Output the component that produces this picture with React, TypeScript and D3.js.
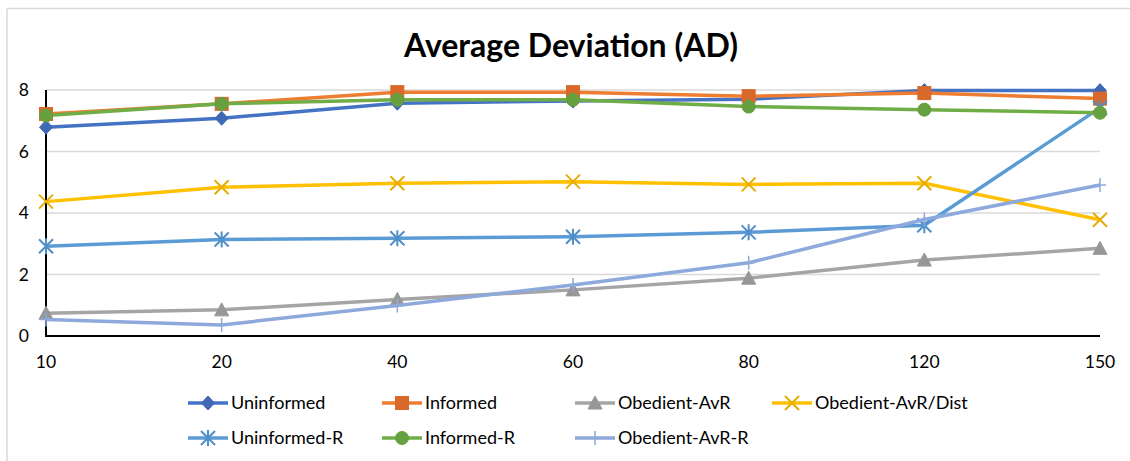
import React from "react";
import * as d3 from "d3";

const categories = ["10", "20", "40", "60", "80", "120", "150"];
const uninformed = [6.79, 7.08, 7.57, 7.64, 7.7, 7.98, 7.98];
const informed = [7.22, 7.55, 7.93, 7.93, 7.8, 7.9, 7.72];
const obedientAvR = [0.74, 0.85, 1.19, 1.5, 1.88, 2.47, 2.85];
const obedientAvRDist = [4.37, 4.84, 4.97, 5.02, 4.93, 4.97, 3.78];
const uninformedR = [2.92, 3.14, 3.18, 3.23, 3.37, 3.6, 7.42];
const informedR = [7.17, 7.55, 7.68, 7.68, 7.46, 7.36, 7.26];
const obedientAvRR = [0.54, 0.36, 0.99, 1.66, 2.38, 3.79, 4.91];
const yTicks = [0, 2, 4, 6, 8];

type Marker = "diamond" | "square" | "triangle" | "x" | "asterisk" | "circle" | "plus";

const seriesList: { name: string; values: number[]; color: string; marker: Marker }[] = [
  { name: "Uninformed", values: uninformed, color: "#4472C4", marker: "diamond" },
  { name: "Informed", values: informed, color: "#ED7D31", marker: "square" },
  { name: "Obedient-AvR", values: obedientAvR, color: "#A5A5A5", marker: "triangle" },
  { name: "Obedient-AvR/Dist", values: obedientAvRDist, color: "#FFC000", marker: "x" },
  { name: "Uninformed-R", values: uninformedR, color: "#5B9BD5", marker: "asterisk" },
  { name: "Informed-R", values: informedR, color: "#70AD47", marker: "circle" },
  { name: "Obedient-AvR-R", values: obedientAvRR, color: "#8EA9DB", marker: "plus" },
];

const markerColor: Record<string, string> = {
  "#4472C4": "#3F69B5",
  "#ED7D31": "#D9692B",
  "#A5A5A5": "#979797",
  "#FFC000": "#E6AC00",
  "#5B9BD5": "#4F8EC8",
  "#70AD47": "#66A03F",
  "#8EA9DB": "#8EA9DB",
};

function MarkerShape({ type, x, y, color }: { type: Marker; x: number; y: number; color: string }) {
  const c = markerColor[color] || color;
  const t = `translate(${x},${y})`;
  switch (type) {
    case "diamond":
      return <path transform={t} d="M0,-7L6.5,0L0,7L-6.5,0Z" fill={c} stroke={c} strokeWidth={1} />;
    case "square":
      return <rect x={x - 6.5} y={y - 6.5} width={13} height={13} fill={c} stroke={c} strokeWidth={1} />;
    case "triangle":
      return <path transform={t} d="M0,-7L7,6L-7,6Z" fill={c} stroke={c} strokeWidth={1} />;
    case "circle":
      return <circle cx={x} cy={y} r={6.5} fill={c} stroke={c} strokeWidth={1} />;
    case "x":
      return <path transform={t} d="M-7,-7L7,7M-7,7L7,-7" stroke={c} strokeWidth={2} fill="none" />;
    case "asterisk":
      return <path transform={t} d="M-7,-7L7,7M-7,7L7,-7M0,-8L0,8" stroke={c} strokeWidth={2} fill="none" />;
    case "plus":
      return <path transform={t} d="M0,-7L0,7M-6,0L6,0" stroke={c} strokeWidth={1.5} fill="none" />;
  }
  return null;
}

export default function App() {
  const W = 1130;
  const H = 461;
  const x = d3.scalePoint<string>().domain(categories).range([46, 1100]);
  const y = d3.scaleLinear().domain([0, 8]).range([336, 90]);
  const line = d3
    .line<number>()
    .x((_, i) => x(categories[i]) as number)
    .y((d) => y(d));
  const font = "Lato, 'Open Sans', sans-serif";

  const legendCols = [188, 382, 575, 772];
  const legendRows = [403, 438];

  return (
    <svg width={W} height={H} style={{ position: "absolute", left: 0, top: 0 }} fontFamily={font}>
      <rect x={0} y={0} width={W} height={H} fill="#fff" />
      <line x1={7} y1={8.5} x2={W} y2={8.5} stroke="#D9D9D9" strokeWidth={1.5} />
      <line x1={7} y1={8} x2={7} y2={H} stroke="#D9D9D9" strokeWidth={1.5} />
      <text x={571} y={57} textAnchor="middle" fontSize={32} fontWeight={700} fill="#000">
        Average Deviation (AD)
      </text>
      {yTicks.map((t) =>
        t > 0 ? (
          <line key={"g" + t} x1={46} x2={1100} y1={y(t)} y2={y(t)} stroke="#D9D9D9" strokeWidth={1.5} />
        ) : null
      )}
      {yTicks.map((t) => (
        <text key={"yt" + t} x={29} y={y(t)} dy="0.35em" textAnchor="end" fontSize={17.5} fill="#000">
          {t}
        </text>
      ))}
      {categories.map((c) => (
        <text key={"xt" + c} x={x(c)} y={362} dy="0.35em" textAnchor="middle" fontSize={17.5} fill="#000">
          {c}
        </text>
      ))}
      <line x1={46} x2={46} y1={90} y2={337} stroke="#000" strokeWidth={2} />
      <line x1={45} x2={1100} y1={336} y2={336} stroke="#000" strokeWidth={2} />
      {seriesList.map((s) => (
        <g key={s.name}>
          <path d={line(s.values) || ""} fill="none" stroke={s.color} strokeWidth={3.5} strokeLinejoin="round" />
          {s.values.map((v, i) => (
            <MarkerShape key={i} type={s.marker} x={x(categories[i]) as number} y={y(v)} color={s.color} />
          ))}
        </g>
      ))}
      {seriesList.map((s, i) => {
        const lx = legendCols[i % 4];
        const ly = legendRows[Math.floor(i / 4)];
        return (
          <g key={"lg" + s.name}>
            <line x1={lx} x2={lx + 40} y1={ly} y2={ly} stroke={s.color} strokeWidth={3.5} />
            <MarkerShape type={s.marker} x={lx + 20} y={ly} color={s.color} />
            <text x={lx + 43} y={ly} dy="0.35em" fontSize={18} fill="#000">
              {s.name}
            </text>
          </g>
        );
      })}
    </svg>
  );
}
